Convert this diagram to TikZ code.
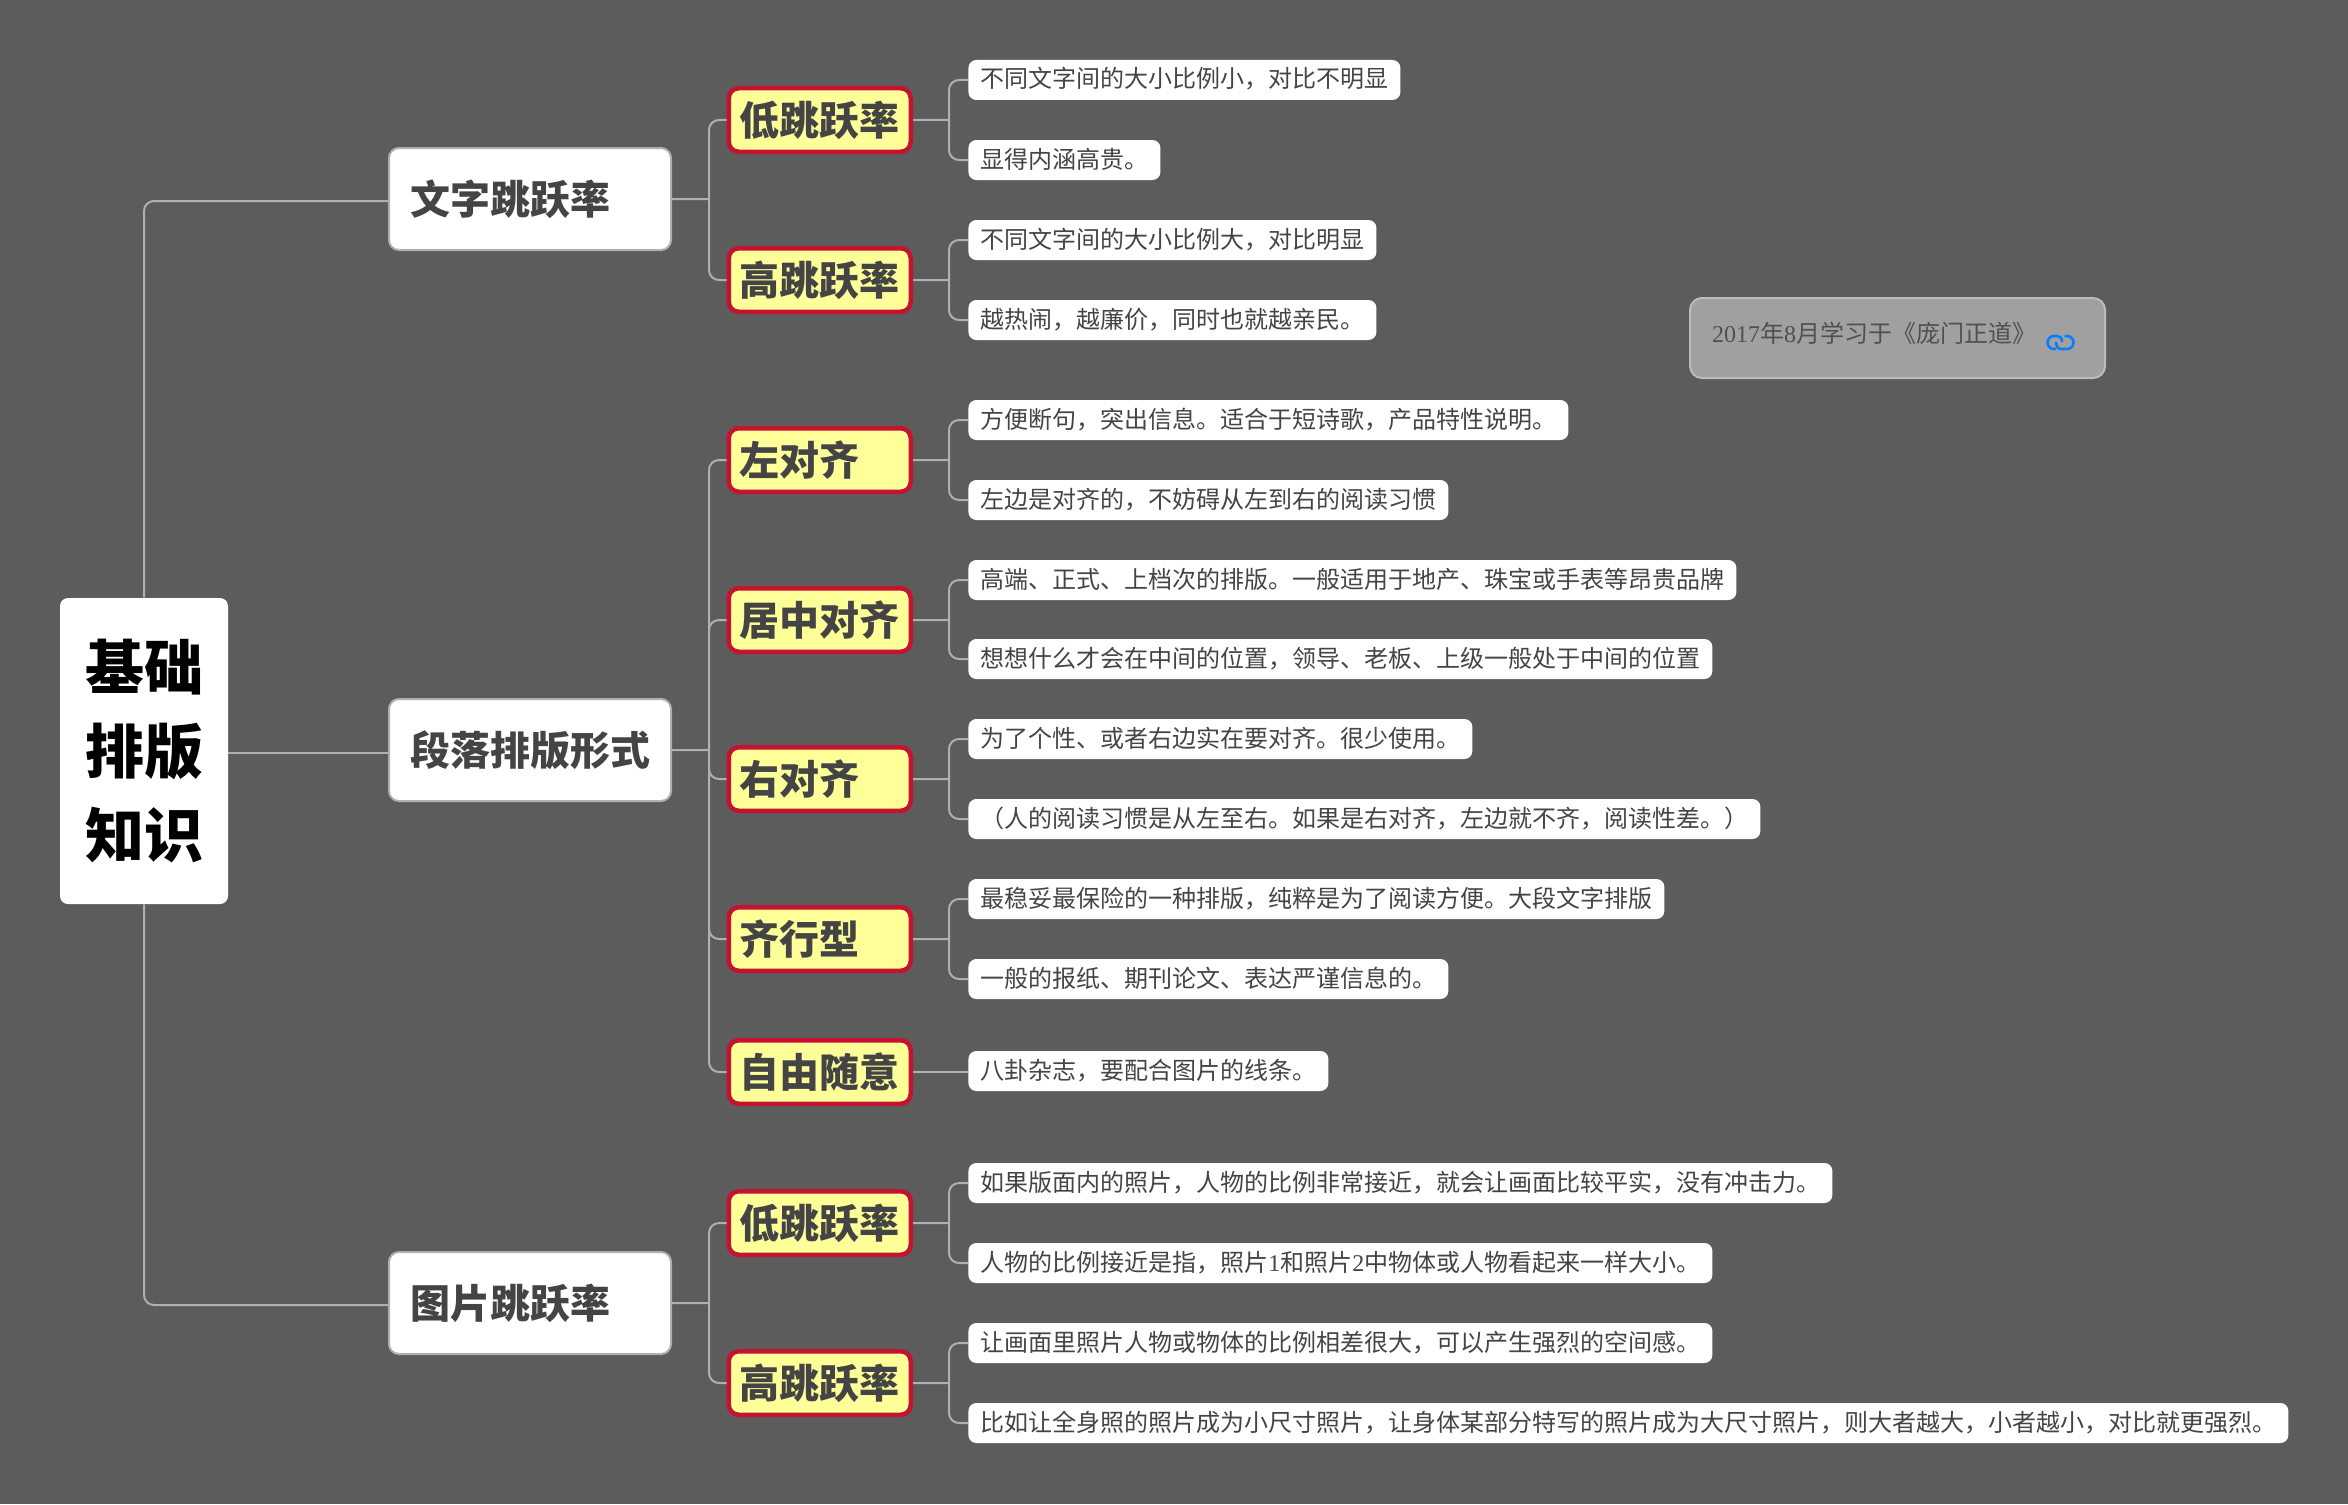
\documentclass[tikz,border=0pt]{standalone}
\usepackage{fontspec}
\setmainfont{Noto Sans CJK SC}
\newfontfamily\digitfont{Liberation Serif}
\definecolor{canvasbg}{HTML}{5C5C5C}
\definecolor{linkgray}{HTML}{B0B0B0}
\definecolor{darktext}{HTML}{444444}
\definecolor{topicred}{HTML}{C41230}
\definecolor{topicyellow}{HTML}{FFFF99}
\definecolor{notefill}{HTML}{A0A0A0}
\definecolor{notedraw}{HTML}{BCBCBC}
\definecolor{notetext}{HTML}{505050}
\definecolor{iconblue}{HTML}{0A7CFF}

\begin{document}
\begin{tikzpicture}[x=0.5pt, y=-0.5pt,
	every node/.style={text=darktext},
	link/.style={draw=linkgray, line width=1pt, rounded corners=5pt},
	iconlink/.style={draw=iconblue, line width=1.3pt},
	rootbox/.style={fill=white, rounded corners=4pt, minimum width=84pt, minimum height=153pt, align=center, text=black, font=\fontsize{29.5}{42}\selectfont\bfseries},
	mainbox/.style={anchor=west, draw=linkgray, fill=white, line width=1pt, rounded corners=5pt, inner xsep=10.5pt, inner ysep=0pt, text width=120pt, minimum height=51pt, align=left, text height=19pt, text depth=4pt, font=\fontsize{20}{24}\selectfont\bfseries},
	topicbox/.style={anchor=west, draw=topicred, fill=topicyellow, line width=2.25pt, rounded corners=5pt, inner xsep=5.5pt, inner ysep=0pt, text width=80pt, minimum height=31.75pt, align=left, text height=19pt, text depth=4pt, font=\fontsize{20}{24}\selectfont\bfseries},
	leafbox/.style={anchor=west, fill=white, rounded corners=4pt, inner xsep=6pt, inner ysep=0pt, minimum height=20pt, text height=10.5pt, text depth=2.5pt, font=\fontsize{12}{14}\selectfont},
	notebox/.style={anchor=north west, draw=notedraw, fill=notefill, line width=1pt, rounded corners=6pt, inner xsep=11pt, inner ysep=0pt, text width=185.5pt, minimum height=40pt, align=left, text=notetext, text height=10.5pt, text depth=6.5pt, font=\fontsize{12}{14}\selectfont},
	]
	\fill[canvasbg] (0,0) rectangle (2348,1504);
	\useasboundingbox (0,0) rectangle (2348,1504);

	\node[rootbox] (root) at (144,751) {基础\\排版\\知识};
	\node[mainbox] (wenzi) at (388,199) {文字跳跃率};
	\node[mainbox] (duanluo) at (388,750) {段落排版形式};
	\node[mainbox] (tupian) at (388,1303) {图片跳跃率};
	\draw[link] (root.north) |- ([yshift=-1pt]wenzi.west);
	\draw[link] ([yshift=-1pt]root.east) -- ([yshift=-1pt]root.east -| duanluo.west);
	\draw[link] (root.south) |- ([yshift=-1pt]tupian.west);

	\begin{scope}
		\node[topicbox] (lowtext) at (726.5,120) {低跳跃率};
		\node[topicbox] (hightext) at (726.5,280) {高跳跃率};
		\node[leafbox] (lowtexta) at (968,80) {不同文字间的大小比例小，对比不明显};
		\node[leafbox] (lowtextb) at (968,160) {显得内涵高贵。};
		\node[leafbox] (hightexta) at (968,240) {不同文字间的大小比例大，对比明显};
		\node[leafbox] (hightextb) at (968,320) {越热闹，越廉价，同时也就越亲民。};
		\draw[link] (wenzi.east) -- ++(37,0) coordinate (fork) (fork) |- (lowtext.west) (fork) |- (hightext.west);
		\draw[link] (lowtext.east) -- ++(36,0) coordinate (fork) (fork) |- (lowtexta.west) (fork) |- (lowtextb.west);
		\draw[link] (hightext.east) -- ++(36,0) coordinate (fork) (fork) |- (hightexta.west) (fork) |- (hightextb.west);
	\end{scope}

	\begin{scope}
		\node[topicbox] (leftalign) at (726.5,460) {左对齐};
		\node[topicbox] (centeralign) at (726.5,620) {居中对齐};
		\node[topicbox] (rightalign) at (726.5,779) {右对齐};
		\node[topicbox] (justify) at (726.5,939) {齐行型};
		\node[topicbox] (free) at (726.5,1072) {自由随意};
		\node[leafbox] (leftaligna) at (968,420) {方便断句，突出信息。适合于短诗歌，产品特性说明。};
		\node[leafbox] (leftalignb) at (968,500) {左边是对齐的，不妨碍从左到右的阅读习惯};
		\node[leafbox] (centeraligna) at (968,580) {高端、正式、上档次的排版。一般适用于地产、珠宝或手表等昂贵品牌};
		\node[leafbox] (centeralignb) at (968,659) {想想什么才会在中间的位置，领导、老板、上级一般处于中间的位置};
		\node[leafbox] (rightaligna) at (968,739) {为了个性、或者右边实在要对齐。很少使用。};
		\node[leafbox] (rightalignb) at (968,819) {（人的阅读习惯是从左至右。如果是右对齐，左边就不齐，阅读性差。）};
		\node[leafbox] (justifya) at (968,899) {最稳妥最保险的一种排版，纯粹是为了阅读方便。大段文字排版};
		\node[leafbox] (justifyb) at (968,979) {一般的报纸、期刊论文、表达严谨信息的。};
		\node[leafbox] (freea) at (968,1071) {八卦杂志，要配合图片的线条。};
		\draw[link] (duanluo.east) -- ++(37,0) coordinate (fork) (fork) |- (leftalign.west) (fork) |- (centeralign.west) (fork) |- (rightalign.west) (fork) |- (justify.west) (fork) |- (free.west);
		\draw[link] (leftalign.east) -- ++(36,0) coordinate (fork) (fork) |- (leftaligna.west) (fork) |- (leftalignb.west);
		\draw[link] (centeralign.east) -- ++(36,0) coordinate (fork) (fork) |- (centeraligna.west) (fork) |- (centeralignb.west);
		\draw[link] (rightalign.east) -- ++(36,0) coordinate (fork) (fork) |- (rightaligna.west) (fork) |- (rightalignb.west);
		\draw[link] (justify.east) -- ++(36,0) coordinate (fork) (fork) |- (justifya.west) (fork) |- (justifyb.west);
		\draw[link] (free.east) -- (free.east -| freea.west);
	\end{scope}

	\begin{scope}
		\node[topicbox] (lowimage) at (726.5,1223) {低跳跃率};
		\node[topicbox] (highimage) at (726.5,1383) {高跳跃率};
		\node[leafbox] (lowimagea) at (968,1183) {如果版面内的照片，人物的比例非常接近，就会让画面比较平实，没有冲击力。};
		\node[leafbox] (lowimageb) at (968,1263) {人物的比例接近是指，照片{\digitfont 1}和照片{\digitfont 2}中物体或人物看起来一样大小。};
		\node[leafbox] (highimagea) at (968,1343) {让画面里照片人物或物体的比例相差很大，可以产生强烈的空间感。};
		\node[leafbox] (highimageb) at (968,1423) {比如让全身照的照片成为小尺寸照片，让身体某部分特写的照片成为大尺寸照片，则大者越大，小者越小，对比就更强烈。};
		\draw[link] (tupian.east) -- ++(37,0) coordinate (fork) (fork) |- (lowimage.west) (fork) |- (highimage.west);
		\draw[link] (lowimage.east) -- ++(36,0) coordinate (fork) (fork) |- (lowimagea.west) (fork) |- (lowimageb.west);
		\draw[link] (highimage.east) -- ++(36,0) coordinate (fork) (fork) |- (highimagea.west) (fork) |- (highimageb.west);
	\end{scope}

	\node[notebox] (note) at (1689,297) {{\digitfont 2017}年{\digitfont 8}月学习于《庞门正道》};
	\draw[iconlink] (2062,342) .. controls (2062,338) and (2060,336) .. (2057,336) -- (2054,336) arc[start angle=90, end angle=270, radius=3.25pt] -- (2056,349);
	\draw[iconlink] (2056,342) .. controls (2056,346) and (2058,349) .. (2061,349) -- (2067,349) arc[start angle=-90, end angle=90, radius=3.25pt] -- (2064.5,336);
\end{tikzpicture}
\end{document}
